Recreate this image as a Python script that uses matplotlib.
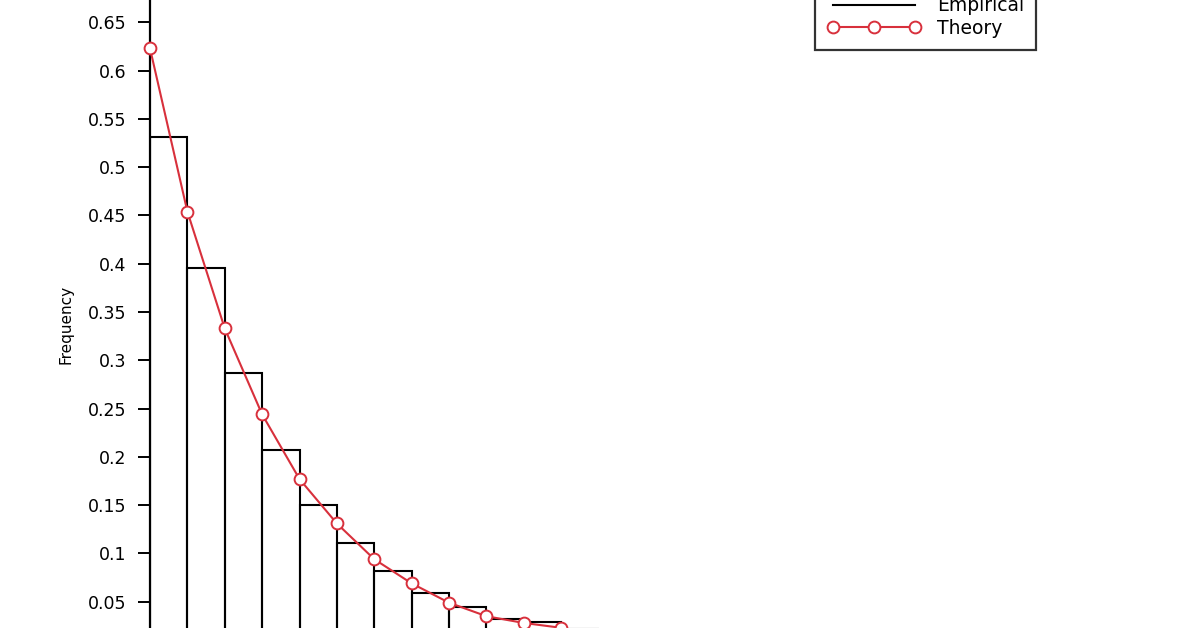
import numpy as np
import matplotlib.pyplot as plt
from matplotlib.lines import Line2D
from matplotlib.ticker import FuncFormatter

# empirical histogram (bin k covers [k, k+1]) and theoretical pmf at k
bins = np.arange(0, 12)
empirical = [0.531, 0.396, 0.287, 0.207, 0.150, 0.111, 0.082, 0.059, 0.045, 0.032, 0.029, 0.022]
k_theory = np.arange(0, 14)
theory = [0.623, 0.454, 0.333, 0.244, 0.177, 0.131, 0.094, 0.069, 0.049, 0.035, 0.028, 0.023, 0.012, 0.009]
yticks = np.arange(1, 14) * 0.05

red = '#d8303c'

fig = plt.figure(figsize=(11.96, 6.28), dpi=100)
# the picture is a crop: the axes run past the top and bottom of the figure
ax = fig.add_axes([150 / 1196, -22 / 628, 897 / 1196, 676 / 628])

ax.bar(bins, empirical, width=1, align='edge', fill=False,
       edgecolor='black', linewidth=1.5)
ax.plot(k_theory, theory, '-o', color=red, linewidth=1.5,
        markersize=8.5, markerfacecolor='white', markeredgecolor=red,
        markeredgewidth=1.4, clip_on=False, zorder=3)

ax.set_xlim(0, 24)
ax.set_ylim(0, 0.7)
ax.set_yticks(yticks)
ax.yaxis.set_major_formatter(FuncFormatter(lambda v, p: '%g' % round(v, 2)))
ax.tick_params(axis='y', direction='out', length=9, width=1.4,
               labelsize=12.5, pad=8)
ax.tick_params(axis='x', bottom=False, labelbottom=False)
for s in ['top', 'right', 'bottom']:
    ax.spines[s].set_visible(False)
ax.spines['left'].set_linewidth(1.6)

ax.set_ylabel('Frequency', fontsize=11)
ax.yaxis.set_label_coords(-0.085, 0.482)

handles = [
    Line2D([], [], color='black', linewidth=1.5),
    Line2D([], [], color=red, linewidth=1.5, marker='o', markersize=8.5,
           markerfacecolor='white', markeredgecolor=red, markeredgewidth=1.4),
]
leg = fig.legend(handles, ['Empirical', 'Theory'], loc='lower right',
                 bbox_to_anchor=(1036 / 1196, (628 - 50) / 628),
                 numpoints=3, handlelength=5.0, fontsize=13.5, frameon=True,
                 fancybox=False, edgecolor='black', borderpad=0.65,
                 labelspacing=0.2, handletextpad=0.85, borderaxespad=0)
leg.get_frame().set_linewidth(1.6)

fig.savefig('out.png', dpi=100)
